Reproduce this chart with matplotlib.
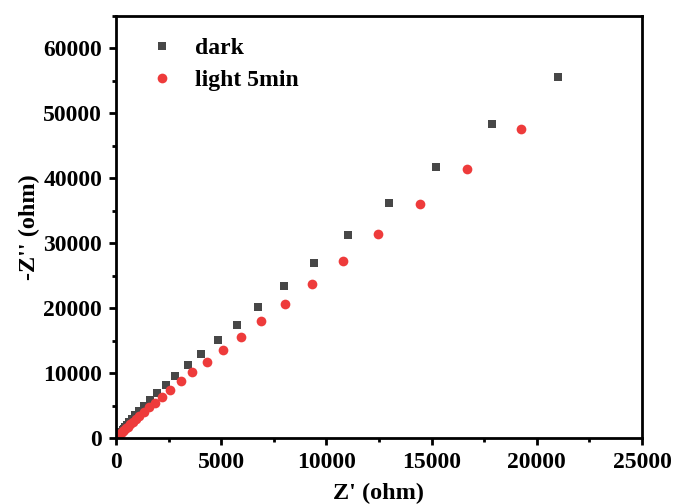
import matplotlib
matplotlib.use("Agg")
import matplotlib.pyplot as plt
from matplotlib.ticker import MultipleLocator

# Nyquist data (Z' real part, -Z'' imaginary part), in ohm
dark_zre = [21000, 17870, 15210, 12960, 11040, 9400, 7985, 6760, 5740, 4830,
            4050, 3400, 2800, 2360, 1960, 1600, 1330, 1110, 920, 770, 640,
            530, 440, 370, 310, 255, 210, 175, 145, 120, 100, 85, 70, 60]
dark_zim = [55600, 48290, 41780, 36170, 31300, 27030, 23380, 20210, 17480, 15070,
            12970, 11210, 9580, 8240, 6960, 5880, 4950, 4150, 3480, 2920, 2440,
            2040, 1700, 1420, 1180, 980, 810, 670, 550, 450, 370, 300, 240, 190]

light_zre = [19250, 16680, 14450, 12450, 10775, 9320, 8030, 6890, 5930, 5070,
             4325, 3600, 3090, 2580, 2200, 1855, 1560, 1320, 1110, 940, 790,
             670, 560, 470, 395, 330, 280, 235, 195, 165, 140, 115, 95, 80, 65]
light_zim = [47570, 41510, 36080, 31350, 27300, 23750, 20610, 17945, 15590, 13590,
             11780, 10240, 8750, 7470, 6390, 5420, 4700, 4000, 3400, 2900, 2450,
             2080, 1750, 1480, 1250, 1050, 890, 750, 630, 530, 450, 375, 310, 260, 210]

series_labels = ["dark", "light 5min"]

plt.rcParams["font.family"] = ["Liberation Serif", "DejaVu Serif"]
plt.rcParams["font.weight"] = "bold"
plt.rcParams["axes.labelweight"] = "bold"

fig = plt.figure(figsize=(6.75, 5.04), dpi=100)
ax = fig.add_axes([116 / 675, 1 - 438 / 504, 526 / 675, 422 / 504])

ax.plot(dark_zre, dark_zim, linestyle="none", marker="s", markersize=6,
        color="#474747", markeredgewidth=0, label=series_labels[0])
ax.plot(light_zre, light_zim, linestyle="none", marker="o", markersize=7,
        color="#ee3b3b", markeredgewidth=0, label=series_labels[1])

ax.set_xlim(0, 25000)
ax.set_ylim(0, 65000)
ax.xaxis.set_major_locator(MultipleLocator(5000))
ax.xaxis.set_minor_locator(MultipleLocator(2500))
ax.yaxis.set_major_locator(MultipleLocator(10000))
ax.yaxis.set_minor_locator(MultipleLocator(5000))

for s in ax.spines.values():
    s.set_linewidth(2.0)
ax.tick_params(which="major", direction="out", length=5, width=2.0,
               labelsize=17, pad=5)
ax.tick_params(which="minor", direction="out", length=3, width=2.0)
ax.tick_params(top=False, right=False)
for lab in ax.get_xticklabels() + ax.get_yticklabels():
    lab.set_fontweight("bold")

ax.set_xlabel("Z' (ohm)", fontsize=17.5, fontweight="bold", labelpad=7)
ax.set_ylabel("-Z'' (ohm)", fontsize=17.5, fontweight="bold", labelpad=2)

leg = ax.legend(loc="upper left", frameon=False, fontsize=17,
                handlelength=1.0, handletextpad=0.9, labelspacing=0.45,
                borderaxespad=0.5, bbox_to_anchor=(0.025, 1.0))

fig.savefig("out.png", dpi=100)
